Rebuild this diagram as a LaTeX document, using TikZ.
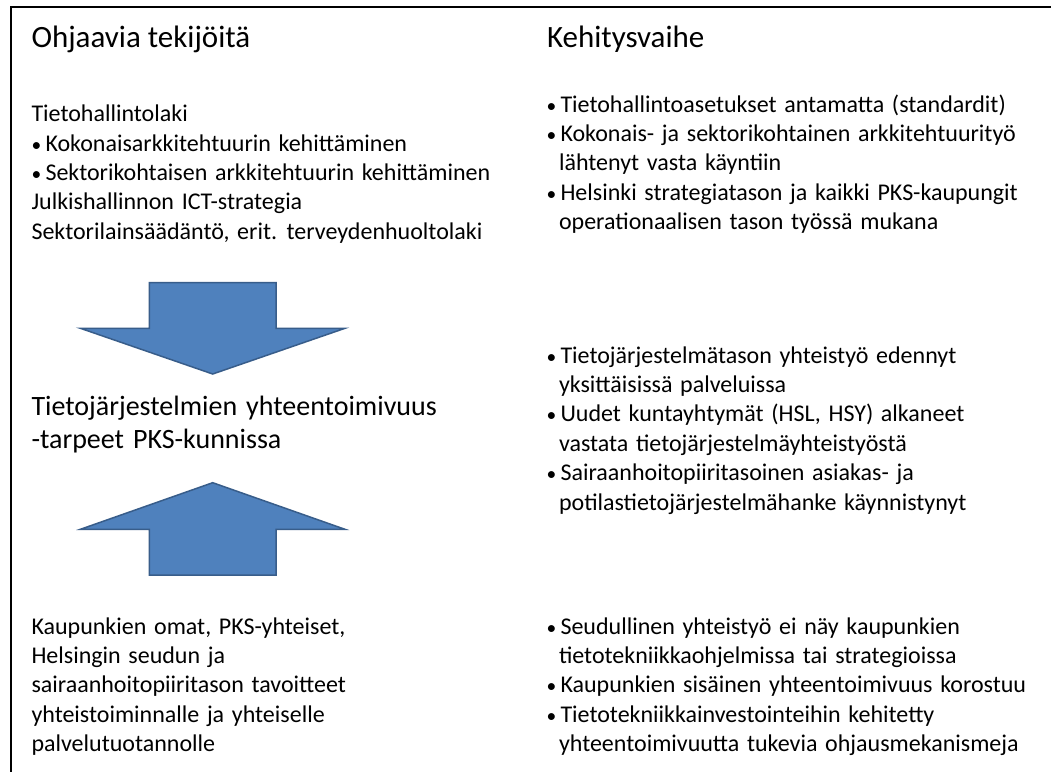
\documentclass[tikz,border=0pt]{standalone}
\usepackage{fontspec}
\setmainfont{Carlito}
\definecolor{arrowblue}{HTML}{4F81BD}
\definecolor{arrowedge}{HTML}{385D8A}
\newcommand{\blk}[1]{\vtop{\spaceskip=0.32em\relax #1}}
\newcommand{\tline}[1]{\hbox{#1}}
\newcommand{\bline}[1]{\hbox{\makebox[14pt][l]{{\fontsize{19.5}{19.5}\selectfont•}}#1}}
\newcommand{\contline}[1]{\hbox{\hspace*{12.5pt}#1}}
\tikzset{
  txt/.style={anchor=base west, inner sep=0pt, outer sep=0pt, text=black},
  bodytxt/.style={txt, font=\fontsize{24}{29.4}\selectfont},
  titletxt/.style={txt, font=\fontsize{31}{37}\selectfont},
  midtxt/.style={txt, font=\fontsize{28}{33.4}\selectfont},
  bigarrow/.style={fill=arrowblue, draw=arrowedge, line width=1.5pt, line join=miter},
  frameline/.style={draw=black, line width=2pt}
}
\begin{document}
\begin{tikzpicture}[x=1pt,y=-1pt]
\useasboundingbox (0,0) rectangle (1051,771);
\fill[white] (0,0) rectangle (1051,771);
% frame
\coordinate (fTL) at (11,6.7);
\coordinate (fTR) at (1052,6.7);
\coordinate (fBL) at (11,772);
\draw[frameline] (fTR) -- (fTL) -- (fBL);

% titles
\node[titletxt] (t1) at (31.5,47.5) {Ohjaavia tekijöitä};
\node[titletxt] (t2) at (547,47.5) {Kehitysvaihe};

% left top block
\node[bodytxt] (lt) at (31.5,121.7) {\blk{%
\tline{Tietohallintolaki}
\bline{Kokonaisarkkitehtuurin kehittäminen}
\bline{Sektorikohtaisen arkkitehtuurin kehittäminen}
\tline{Julkishallinnon ICT-strategia}
\tline{Sektorilainsäädäntö, erit. terveydenhuoltolaki}}};

% right top block
\node[bodytxt] (rt) at (546.5,112) {\blk{%
\bline{Tietohallintoasetukset antamatta (standardit)}
\bline{Kokonais- ja sektorikohtainen arkkitehtuurityö}
\contline{lähtenyt vasta käyntiin}
\bline{Helsinki strategiatason ja kaikki PKS-kaupungit}
\contline{operationaalisen tason työssä mukana}}};

% middle left
\node[midtxt] (ml) at (31.5,415) {\blk{%
\tline{Tietojärjestelmien yhteentoimivuus}
\tline{-tarpeet PKS-kunnissa}}};

% right middle block
\node[bodytxt] (rm) at (546.5,363) {\blk{%
\bline{Tietojärjestelmätason yhteistyö edennyt}
\contline{yksittäisissä palveluissa}
\bline{Uudet kuntayhtymät (HSL, HSY) alkaneet}
\contline{vastata tietojärjestelmäyhteistyöstä}
\bline{Sairaanhoitopiiritasoinen asiakas- ja}
\contline{potilastietojärjestelmähanke käynnistynyt}}};

% left bottom block
\node[bodytxt] (lb) at (31.5,634) {\blk{%
\tline{Kaupunkien omat, PKS-yhteiset,}
\tline{Helsingin seudun ja}
\tline{sairaanhoitopiiritason tavoitteet}
\tline{yhteistoiminnalle ja yhteiselle}
\tline{palvelutuotannolle}}};

% right bottom block
\node[bodytxt] (rb) at (546.5,634) {\blk{%
\bline{Seudullinen yhteistyö ei näy kaupunkien}
\contline{tietotekniikkaohjelmissa tai strategioissa}
\bline{Kaupunkien sisäinen yhteentoimivuus korostuu}
\bline{Tietotekniikkainvestointeihin kehitetty}
\contline{yhteentoimivuutta tukevia ohjausmekanismeja}}};

% down arrow
\draw[bigarrow] (149.4,282.7) -- (276,282.7) -- (276,328.3) -- (345,328.3)
  -- (212.7,374) -- (80.4,328.3) -- (149.4,328.3) -- cycle;
% up arrow
\draw[bigarrow] (212.7,482.7) -- (345,529.3) -- (276,529.3) -- (276,575)
  -- (149.4,575) -- (149.4,529.3) -- (80.4,529.3) -- cycle;
\end{tikzpicture}
\end{document}
